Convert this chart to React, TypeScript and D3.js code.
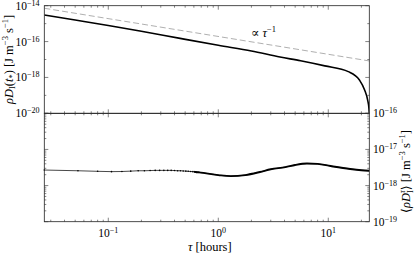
import React from "react";
import * as d3 from "d3";

// tau in hours, rates in J m^-3 s^-1
const upperTau = [0.0262, 0.05, 0.1, 0.194, 0.45, 1.0, 2.0, 3.64, 5.6, 9.3, 15.2, 19.2, 21.4, 22.8, 23.4, 23.6];
const upperRate = [3.0e-15, 1.58e-15, 7.9e-16, 3.9e-16, 1.5e-16, 6.2e-17, 3.0e-17, 1.38e-17, 8.5e-18, 4.4e-18, 2.1e-18, 7.2e-19, 2.0e-19, 5.5e-20, 2.0e-20, 1.0e-20];

const refTau = [0.0262, 23.6];
const refRate = [7.2e-15, 8.3e-18];

const meanTau = [
  0.0262, 0.053, 0.08, 0.107, 0.133, 0.16, 0.187, 0.213, 0.24, 0.267, 0.293, 0.32, 0.347,
  0.373, 0.4, 0.427, 0.453, 0.48, 0.507, 0.533, 0.56, 0.587, 0.613, 0.64, 0.667,
  1.0, 1.3, 1.76, 2.39, 3.0, 4.07, 5.0, 6.4, 8.0, 10.5, 15.8, 20, 23.6
];
const meanRate = [
  2.69e-18, 2.57e-18, 2.48e-18, 2.43e-18, 2.45e-18, 2.51e-18, 2.57e-18, 2.57e-18, 2.6e-18, 2.63e-18,
  2.63e-18, 2.63e-18, 2.63e-18, 2.63e-18, 2.6e-18, 2.57e-18, 2.57e-18, 2.54e-18, 2.51e-18, 2.48e-18,
  2.45e-18, 2.43e-18, 2.4e-18, 2.34e-18, 2.32e-18,
  1.95e-18, 1.82e-18, 1.95e-18, 2.37e-18, 2.82e-18, 3.24e-18, 3.72e-18, 4.07e-18, 3.98e-18, 3.47e-18,
  2.88e-18, 2.66e-18, 2.57e-18
];

const xTickValues = [0.1, 1, 10];
const upperTickValues = [1e-14, 1e-16, 1e-18, 1e-20];
const lowerTickValues = [1e-16, 1e-17, 1e-18, 1e-19];

const W = 415;
const H = 254;
const left = 44.3;
const right = 369.3;
const top = 5.7;
const mid = 113.3;
const bottom = 221.7;
const font = "'Liberation Serif', 'DejaVu Serif', serif";

const exp = (v: number) => {
  const e = Math.round(Math.log10(v));
  return e < 0 ? "\u2212" + Math.abs(e) : String(e);
};
const isDecade = (v: number) => Math.abs(Math.log10(v) - Math.round(Math.log10(v))) < 1e-6;

const Pow = ({ v }: { v: number }) => (
  <>
    <tspan>10</tspan>
    <tspan fontSize={8} dy={-4}>{exp(v)}</tspan>
  </>
);

export default function App() {
  const x = d3.scaleLog().domain([0.0262, 23.6]).range([left, right]);
  const yUp = d3.scaleLog().domain([1e-20, 1e-14]).range([mid, top]);
  const yLo = d3.scaleLog().domain([1e-19, 1e-16]).range([bottom, mid]);

  const upperLine = d3
    .line<number>()
    .x((d, i) => x(upperTau[i]))
    .y((d) => yUp(d))
    .curve(d3.curveMonotoneX)(upperRate);
  const refLine = d3
    .line<number>()
    .x((d, i) => x(refTau[i]))
    .y((d) => yUp(d))(refRate);
  const meanLine = d3
    .line<number>()
    .x((d, i) => x(meanTau[i]))
    .y((d) => yLo(d))
    .curve(d3.curveMonotoneX)(meanRate);

  // ticks, all pointing inward
  let tickPath = "";
  x.ticks().forEach((t) => {
    const px = x(t);
    const len = isDecade(t) ? 4 : 2;
    tickPath += `M${px},${top}v${len}M${px},${mid}v${-len}M${px},${mid}v${len}M${px},${bottom}v${-len}`;
  });
  yUp.ticks().filter(isDecade).forEach((t) => {
    const py = yUp(t);
    const len = Math.round(Math.log10(t)) % 2 === 0 ? 4 : 2;
    tickPath += `M${left},${py}h${len}M${right},${py}h${-len}`;
  });
  yLo.ticks().forEach((t) => {
    const py = yLo(t);
    const len = isDecade(t) ? 4 : 2;
    tickPath += `M${left},${py}h${len}M${right},${py}h${-len}`;
  });

  const thickFrom = x(0.6);

  return (
    <svg
      width={W}
      height={H}
      style={{ position: "absolute", left: 0, top: 0, background: "white" }}
      fontFamily={font}
    >
      <defs>
        <clipPath id="clipUp">
          <rect x={left} y={top} width={right - left} height={mid - top} />
        </clipPath>
        <clipPath id="clipThick">
          <rect x={thickFrom} y={mid} width={right - thickFrom} height={bottom - mid} />
        </clipPath>
      </defs>

      {/* upper panel */}
      <g clipPath="url(#clipUp)">
        <path d={refLine ?? ""} fill="none" stroke="#9a9a9a" strokeWidth={0.8} strokeDasharray="6,3" />
        <path d={upperLine ?? ""} fill="none" stroke="#000" strokeWidth={1.6} />
      </g>
      <text x={251} y={37} fontSize={12.5}>
        <tspan>{"\u221D "}</tspan>
        <tspan fontStyle="italic">τ</tspan>
        <tspan fontSize={8.5} dy={-5}>{"\u22121"}</tspan>
      </text>

      {/* lower panel */}
      <path d={meanLine ?? ""} fill="none" stroke="#333" strokeWidth={0.9} />
      <path d={meanLine ?? ""} fill="none" stroke="#000" strokeWidth={1.9} clipPath="url(#clipThick)" />
      {meanTau
        .map((t, i) => ({ t, v: meanRate[i] }))
        .filter((d) => d.t < 0.7)
        .map((d, i) => (
          <circle key={i} cx={x(d.t)} cy={yLo(d.v)} r={0.8} fill="#000" />
        ))}

      {/* frames and ticks */}
      <rect x={left} y={top} width={right - left} height={mid - top} fill="none" stroke="#222" strokeWidth={0.8} />
      <rect x={left} y={mid} width={right - left} height={bottom - mid} fill="none" stroke="#222" strokeWidth={0.8} />
      <path d={tickPath} fill="none" stroke="#333" strokeWidth={0.6} />

      {/* tick labels */}
      {upperTickValues.map((v) => (
        <text key={v} x={39.5} y={yUp(v) + 4} fontSize={11.5} textAnchor="end">
          <Pow v={v} />
        </text>
      ))}
      {lowerTickValues.map((v) => (
        <text key={v} x={373} y={yLo(v) + 4} fontSize={11.5} textAnchor="start">
          <Pow v={v} />
        </text>
      ))}
      {xTickValues.map((v) => (
        <text key={v} x={x(v)} y={236.5} fontSize={11.5} textAnchor="middle">
          <Pow v={v} />
        </text>
      ))}

      {/* axis titles */}
      <text x={(left + right) / 2 + 3} y={251} fontSize={12.5} textAnchor="middle">
        <tspan fontStyle="italic">τ</tspan>
        <tspan>{" [hours]"}</tspan>
      </text>
      <text transform={`translate(12.5,${(top + mid) / 2}) rotate(-90)`} fontSize={12.5} textAnchor="middle">
        <tspan fontStyle="italic">ρD</tspan>
        <tspan fontSize={8.5} dy={2.5}>I</tspan>
        <tspan dy={-2.5}>(</tspan>
        <tspan fontStyle="italic">t</tspan>
        <tspan fontSize={8.5} dy={2.5}>*</tspan>
        <tspan dy={-2.5}>{") [J m"}</tspan>
        <tspan fontSize={8.5} dy={-4.5}>{"\u22123"}</tspan>
        <tspan dy={4.5}>{" s"}</tspan>
        <tspan fontSize={8.5} dy={-4.5}>{"\u22121"}</tspan>
        <tspan dy={4.5}>]</tspan>
      </text>
      <text transform={`translate(409.5,${(mid + bottom) / 2 + 4}) rotate(-90)`} fontSize={12.5} textAnchor="middle">
        <tspan>{"\u27E8"}</tspan>
        <tspan fontStyle="italic">ρD</tspan>
        <tspan fontSize={8.5} dy={3}>I</tspan>
        <tspan fontSize={8.5} fontStyle="italic" dx={-3} dy={-8}>τ</tspan>
        <tspan dy={5}>{"\u27E9 [J m"}</tspan>
        <tspan fontSize={8.5} dy={-4.5}>{"\u22123"}</tspan>
        <tspan dy={4.5}>{" s"}</tspan>
        <tspan fontSize={8.5} dy={-4.5}>{"\u22121"}</tspan>
        <tspan dy={4.5}>]</tspan>
      </text>
    </svg>
  );
}
